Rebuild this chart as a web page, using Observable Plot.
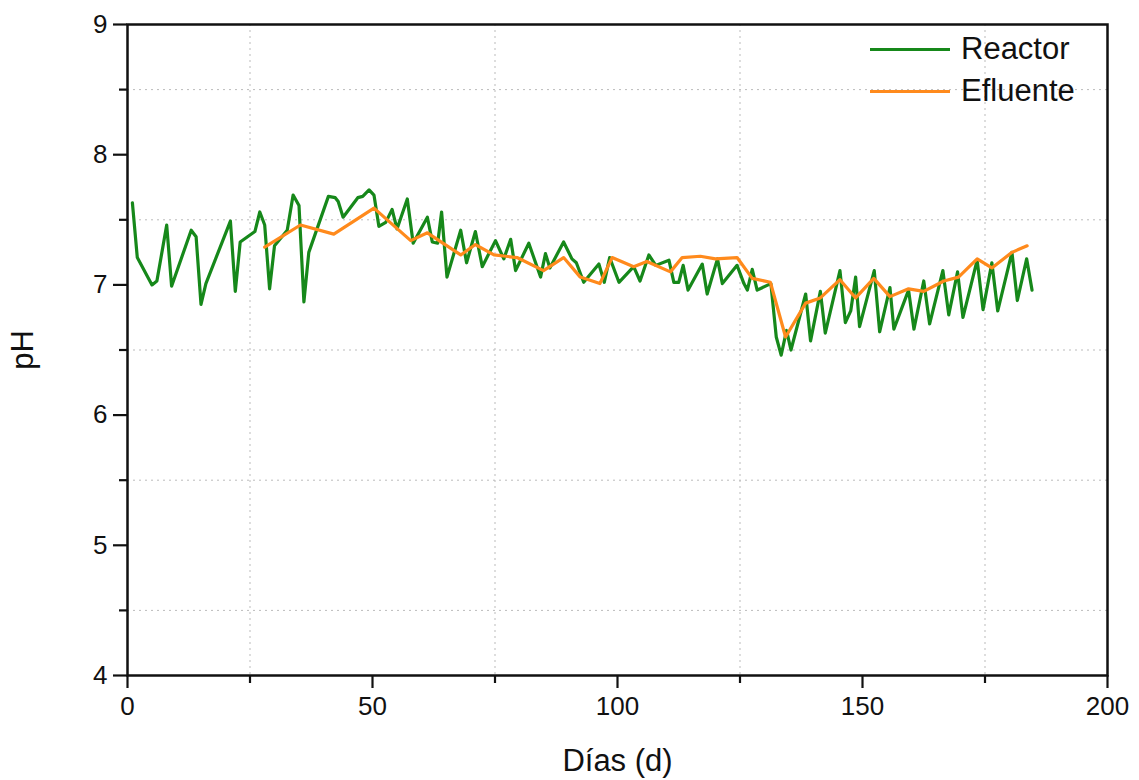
<!DOCTYPE html>
<html>
<head>
<meta charset="utf-8">
<script src="https://cdn.jsdelivr.net/npm/d3@7"></script>
<script src="https://cdn.jsdelivr.net/npm/@observablehq/plot@0.6"></script>
<style>
  html, body { margin: 0; padding: 0; background: #fff; }
  #wrap { position: relative; width: 1139px; height: 780px; font-family: "Liberation Sans", Arial, sans-serif; }
  #legend { position: absolute; left: 870px; top: 28px; font-size: 31px; color: #111; }
  .item { display: flex; align-items: center; height: 42px; }
  .swatch { width: 80px; height: 0; border-top: 3px solid; margin-right: 11px; }
</style>
</head>
<body>
<div id="wrap"></div>
<script>
const reactorDay = [1,2,5,6,8,9,13,14,15,16,21,22,23,26,27,28,29,30,32.6,33.8,35,36,37,41,42.4,43,44,47,48,49.3,50.3,51.3,52.7,54,55,57.1,58.3,61.2,62.2,63.3,64.1,65.2,68,69.2,71,72.4,75.1,76.8,78.2,79.2,81.9,84.3,85.3,86.2,89,90.7,91.6,93.1,96.2,97.3,98.4,100.3,103.3,104.6,106.4,107.8,110.5,111.5,112.5,113.4,114.4,117.3,118.3,120.4,121.4,124.4,125.8,126.5,127.5,128.5,131.3,132.4,133.4,134.5,135.4,138.4,139.4,141.4,142.4,145.4,146.5,147.6,148.6,149.4,152.4,153.5,155.6,156.4,159.4,160.5,162.5,163.7,166.4,167.6,169.4,170.5,173.4,174.6,176.4,177.6,180.5,181.6,183.5,184.6];
const reactorPH = [7.63,7.21,7.00,7.03,7.46,6.99,7.42,7.37,6.85,7.01,7.49,6.95,7.33,7.41,7.56,7.46,6.97,7.30,7.42,7.69,7.61,6.87,7.25,7.68,7.67,7.64,7.52,7.67,7.68,7.73,7.69,7.45,7.48,7.58,7.43,7.66,7.32,7.52,7.33,7.32,7.56,7.06,7.42,7.17,7.41,7.14,7.34,7.20,7.35,7.11,7.32,7.06,7.24,7.13,7.33,7.20,7.17,7.02,7.16,7.02,7.21,7.02,7.14,7.03,7.23,7.15,7.19,7.02,7.02,7.15,6.96,7.16,6.93,7.20,7.01,7.15,7.01,6.96,7.12,6.96,7.01,6.60,6.46,6.65,6.50,6.93,6.57,6.95,6.63,7.11,6.71,6.80,7.06,6.68,7.11,6.64,6.98,6.66,6.96,6.66,7.03,6.70,7.11,6.77,7.10,6.75,7.19,6.81,7.17,6.80,7.25,6.88,7.20,6.96];
const efluenteDay = [28,35.3,42.1,50.3,57.8,61.2,68,71,74.8,79.5,84.9,89,92.4,96.4,98.9,103.3,106,110.8,113.2,116.9,120,124.4,127.5,131.2,134.3,138.4,141.4,145.4,148.6,152.3,155.6,159.4,162.5,166.6,169.6,173.4,176.4,180.5,183.6];
const efluentePH = [7.29,7.46,7.39,7.59,7.34,7.40,7.23,7.31,7.23,7.21,7.11,7.21,7.06,7.01,7.21,7.14,7.18,7.10,7.21,7.22,7.20,7.21,7.05,7.02,6.60,6.86,6.90,7.04,6.90,7.05,6.91,6.97,6.95,7.03,7.06,7.20,7.13,7.25,7.30];
const xMajor = [0,50,100,150,200];
const xMinor = [25,75,125,175];
const yMajor = [4,5,6,7,8,9];
const yMinor = [4.5,5.5,6.5,7.5,8.5];
const xLabel = "Días (d)";
const yLabel = "pH";
const seriesNames = ["Reactor","Efluente"];
const seriesColors = ["#16881a","#ff8a1c"];

const reactor = reactorDay.map((d,i) => ({day: d, ph: reactorPH[i]}));
const efluente = efluenteDay.map((d,i) => ({day: d, ph: efluentePH[i]}));

const chart = Plot.plot({
  width: 1139,
  height: 780,
  marginLeft: 127,
  marginRight: 32,
  marginTop: 24,
  marginBottom: 105,
  style: {fontFamily: "'Liberation Sans', Arial, sans-serif", fontSize: "26px", color: "#111", background: "#fff"},
  x: {domain: [0,200]},
  y: {domain: [4,9]},
  marks: [
    Plot.gridX(xMinor, {stroke: "#bbb", strokeOpacity: 1, strokeDasharray: "2,4", strokeWidth: 1}),
    Plot.gridY(yMinor, {stroke: "#bbb", strokeOpacity: 1, strokeDasharray: "2,4", strokeWidth: 1}),
    Plot.line(reactor, {x: "day", y: "ph", stroke: seriesColors[0], strokeWidth: 3.2}),
    Plot.line(efluente, {x: "day", y: "ph", stroke: seriesColors[1], strokeWidth: 3.2}),
    Plot.frame({stroke: "#111", strokeWidth: 2.5}),
    Plot.axisX(xMajor, {tickSize: 13, tickPadding: 8, fontSize: 26, strokeWidth: 2.2, label: null, tickFormat: d => d}),
    Plot.axisX(xMinor, {tickSize: 8, strokeWidth: 2.2, text: null, label: null}),
    Plot.axisY(yMajor, {tickSize: 14, tickPadding: 6, fontSize: 26, strokeWidth: 2.2, label: null, tickFormat: d => d}),
    Plot.axisY(yMinor, {tickSize: 8, strokeWidth: 2.2, text: null, label: null}),
    Plot.text([yLabel], {frameAnchor: "left", dx: -104, rotate: -90, textAnchor: "middle", lineAnchor: "middle", fontSize: 31, fill: "#111"}),
    Plot.text([xLabel], {frameAnchor: "bottom", dy: 86, lineAnchor: "middle", fontSize: 31, fill: "#111"})
  ]
});
document.getElementById("wrap").appendChild(chart);

const legend = document.createElement("div");
legend.id = "legend";
seriesNames.forEach((n, i) => {
  const item = document.createElement("div");
  item.className = "item";
  const sw = document.createElement("span");
  sw.className = "swatch";
  sw.style.borderTopColor = seriesColors[i];
  const lab = document.createElement("span");
  lab.textContent = n;
  item.appendChild(sw); item.appendChild(lab);
  legend.appendChild(item);
});
document.getElementById("wrap").appendChild(legend);
</script>
</body>
</html>
